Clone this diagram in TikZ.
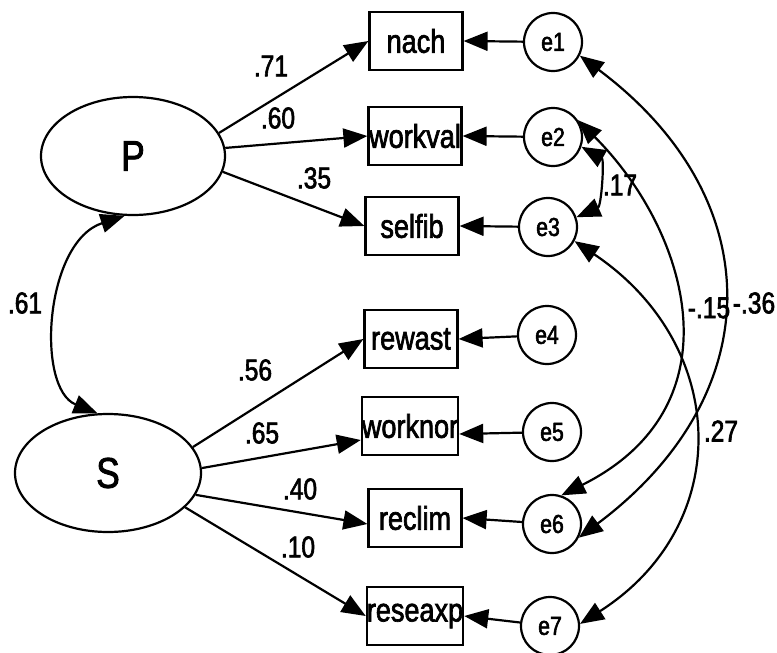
\documentclass[tikz,border=0pt]{standalone}
\usepackage{fontspec}
\setmainfont{Liberation Sans}[FakeStretch=0.82,FakeBold=2]
\usetikzlibrary{arrows.meta,shapes.geometric}

\begin{document}
\begin{tikzpicture}[x=1pt,y=-1pt,
  line width=2.2pt,
  head/.style={-{Triangle[length=24pt,width=19pt]}},
  twohead/.style={{Triangle[length=24pt,width=19pt]}-{Triangle[length=24pt,width=19pt]}},
  latent/.style={draw,ellipse,inner sep=0pt,font=\fontsize{43}{43}\selectfont},
  obs/.style={draw,rectangle,inner sep=0pt,minimum width=93pt,minimum height=58pt,font=\fontsize{33}{33}\selectfont},
  err/.style={draw,circle,inner sep=0pt,minimum size=58pt,font=\fontsize{26}{26}\selectfont},
  coef/.style={inner sep=0pt,font=\fontsize{30}{30}\selectfont}]

\useasboundingbox (0,0) rectangle (777,653);

% latent factors
\node[latent,minimum width=184pt,minimum height=118pt] (P) at (133,156) {P};
\node[latent,minimum width=186pt,minimum height=118pt] (S) at (108,473) {S};

% observed indicators
\node[obs] (nach)    at (416,41)  {nach};
\node[obs] (workval) at (415,136) {workval};
\node[obs] (selfib)  at (412,226) {selfib};
\node[obs] (rewast)  at (411,339) {rewast};
\node[obs] (worknor) at (410,426) {worknor};
\node[obs] (reclim)  at (415,518) {reclim};
\node[obs] (reseaxp) at (415,616) {reseaxp};

% error terms
\node[err] (e1) at (553,42)  {e1};
\node[err] (e2) at (553,137) {e2};
\node[err] (e3) at (548,227) {e3};
\node[err] (e4) at (547,335) {e4};
\node[err] (e5) at (552,432) {e5};
\node[err] (e6) at (552,524) {e6};
\node[err] (e7) at (550,626) {e7};

% loadings
\draw[head] (P.15) -- (nach.west);
\draw[head] (P.5)  -- (workval.west);
\draw[head] (P.-10) -- (selfib.west);
\draw[head] (S.17) -- (rewast.west);
\draw[head] (S.3)  -- ([yshift=-14pt]worknor.west);
\draw[head] (S.-14) -- ([yshift=-6pt]reclim.west);
\draw[head] (S.-24) -- (reseaxp.west);

% error paths
\draw[head] (e1) -- (nach.east);
\draw[head] (e2) -- (workval.east);
\draw[head] (e3) -- (selfib.east);
\draw[head] (e4) -- (rewast.east);
\draw[head] (e5) -- ([yshift=-8pt]worknor.east);
\draw[head] (e6) -- (reclim.east);
\draw[head] (e7) -- (reseaxp.east);

% covariances
\draw[twohead] (P.-98) .. controls +(-80,26) and +(-62,-25) .. (S.100);
\draw[twohead] (e2.-19) .. controls +(23,13) and +(25,-11) .. (e3.19);
\draw[twohead] (e1.-27) .. controls +(191,143) and +(191,-143) .. (e6.-27);
\draw[twohead] (e2.34) .. controls +(110,110) and +(180,-90) .. (e6.72);
\draw[twohead] (e3.-28) .. controls +(155,104) and +(155,-99) .. (e7.4);

% coefficients
\node[coef] (c71) at (271,66)  {.71};
\node[coef] (c60) at (278,118) {.60};
\node[coef] (c35) at (314,178) {.35};
\node[coef] (c56) at (255,370) {.56};
\node[coef] (c65) at (262,433) {.65};
\node[coef] (c40) at (300,489) {.40};
\node[coef] (c10) at (298,547) {.10};
\node[coef] (c61) at (25,303)  {.61};
\node[coef] (c17) at (620,185) {.17};
\node[coef] (c15) at (709,308) {-.15};
\node[coef] (c36) at (754,303) {-.36};
\node[coef] (c27) at (721,431) {.27};
\end{tikzpicture}
\end{document}
